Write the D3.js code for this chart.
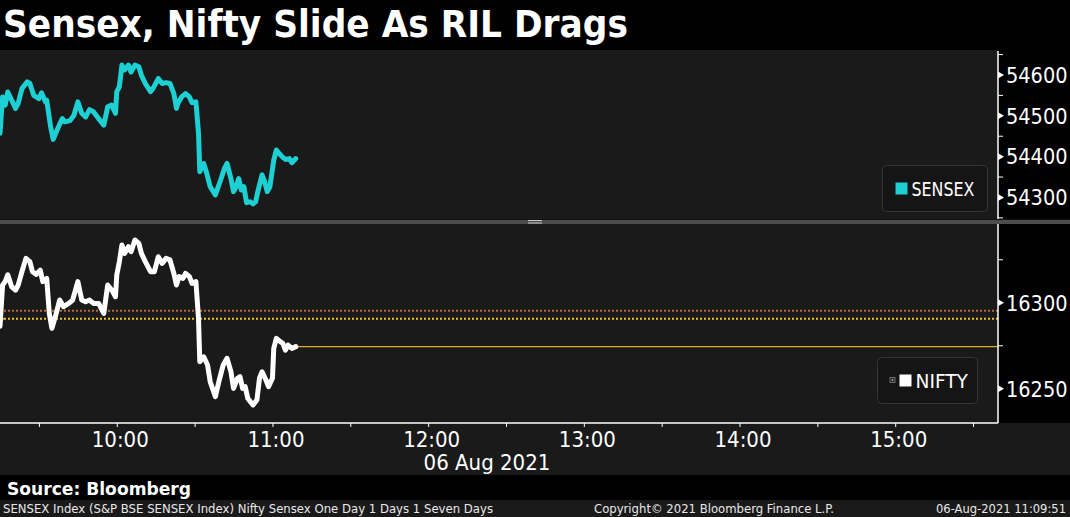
<!DOCTYPE html>
<html>
<head>
<meta charset="utf-8">
<script src="https://cdn.jsdelivr.net/npm/d3@7"></script>
<style>
  html, body { margin: 0; padding: 0; background: #000; }
  svg { display: block; }
</style>
</head>
<body>
<svg id="chart" width="1070" height="517"></svg>
<script>
// ---------------- DATA ----------------
const titleText = "Sensex, Nifty Slide As RIL Drags";
const sensexTimes = ["09:15:00","09:16:00","09:17:00","09:18:00","09:21:00","09:22:00","09:23:30","09:25:30","09:26:30","09:28:00",
  "09:30:00","09:31:00","09:32:30","09:33:00","09:34:30","09:35:30","09:37:00","09:39:00","09:40:00","09:42:00",
  "09:43:30","09:45:00","09:46:30","09:48:00","09:49:30","09:51:00","09:53:00","09:55:00","09:56:30","09:58:00",
  "09:59:30","10:00:00","10:01:00","10:02:00","10:03:00","10:04:30","10:05:30","10:07:00","10:08:30","10:09:30",
  "10:11:00","10:13:00","10:14:00","10:16:00","10:17:30","10:19:00","10:20:30","10:22:00","10:23:00","10:23:30",
  "10:25:00","10:26:30","10:28:00","10:29:00","10:30:30","10:31:30","10:32:00","10:33:30","10:34:30","10:36:00",
  "10:38:00","10:40:00","10:41:30","10:42:30","10:44:00","10:45:00","10:46:00","10:47:00","10:48:00","10:49:00",
  "10:50:00","10:51:30","10:52:30","10:53:30","10:54:30","10:56:00","10:57:00","10:58:00","10:59:00","11:00:30",
  "11:01:30","11:02:30","11:04:00","11:05:00","11:06:30","11:07:30","11:09:00"];
const sensexValues = [54456,54545,54525,54557,54517,54529,54566,54582,54578,54549,
  54541,54555,54533,54537,54472,54441,54464,54492,54484,54487,
  54500,54533,54505,54496,54514,54509,54492,54476,54521,54525,
  54505,54558,54570,54623,54611,54623,54606,54623,54619,54598,
  54578,54558,54566,54590,54578,54580,54578,54553,54517,54529,
  54545,54553,54545,54531,54533,54456,54362,54382,54362,54325,
  54305,54341,54370,54382,54345,54313,54325,54345,54317,54325,
  54286,54288,54283,54288,54317,54354,54337,54313,54325,54390,
  54415,54407,54397,54392,54394,54384,54394];

const niftyTimes = ["09:15:00","09:16:00","09:17:00","09:18:00","09:19:30","09:21:00","09:22:00","09:23:30","09:25:00","09:26:30",
  "09:27:30","09:29:00","09:30:30","09:31:30","09:33:00","09:34:00","09:35:00","09:36:30","09:38:00","09:39:30",
  "09:41:30","09:43:00","09:45:00","09:46:30","09:48:00","09:49:30","09:51:00","09:53:00","09:55:00","09:56:30",
  "09:58:30","09:59:30","10:00:00","10:01:00","10:02:00","10:03:00","10:04:30","10:05:30","10:07:00","10:08:30",
  "10:09:30","10:11:00","10:13:00","10:14:30","10:16:00","10:17:30","10:19:00","10:20:30","10:22:00","10:23:00",
  "10:24:00","10:25:30","10:26:30","10:28:00","10:29:00","10:30:30","10:31:30","10:32:00","10:33:30","10:35:00",
  "10:36:00","10:38:00","10:39:30","10:41:00","10:42:30","10:44:00","10:45:00","10:46:30","10:47:30","10:48:30",
  "10:49:30","10:50:30","10:51:30","10:52:30","10:54:00","10:55:00","10:56:00","10:57:30","10:58:30","11:00:00",
  "11:00:30","11:01:30","11:03:00","11:04:00","11:05:00","11:06:00","11:07:30","11:09:00"];
const niftyValues = [16286,16310,16312,16316,16309,16307,16310,16318,16325.5,16323.6,
  16317.8,16316.2,16318.7,16312,16313.9,16293.5,16284.8,16292.6,16301.3,16297.4,
  16299.3,16301.3,16312,16301.3,16300.3,16301.3,16299.3,16299.3,16293.5,16310,
  16306.1,16303.2,16315.8,16323.6,16333.3,16328.4,16332.3,16329.4,16336.2,16334.2,
  16328.4,16323.6,16317.8,16317.8,16326.5,16322.6,16325.5,16324.6,16316.8,16310,
  16314.9,16313.9,16316.8,16314.9,16311,16312,16290.6,16265.4,16268.3,16263.5,
  16253.8,16245.1,16254.8,16263.5,16267.4,16259.6,16249.9,16255.8,16256.7,16249.9,
  16250.9,16244.1,16242.2,16240.2,16243.2,16255.8,16259.6,16254.8,16250.9,16255.8,
  16273.2,16279,16277.1,16276.1,16272.2,16275.1,16273.2,16274.2];

const niftyRefLevels = [16295, 16290.4];   // dotted reference lines (orange, yellow)
const sensexTicks = [54300, 54400, 54500, 54600];
const sensexMinorTicks = [54250, 54350, 54450, 54550, 54650];
const niftyTicks = [16250, 16300];
const niftyMinorTicks = [16275, 16325];
const hourTicks = ["10:00:00","11:00:00","12:00:00","13:00:00","14:00:00","15:00:00"];
const halfHourTicks = ["09:30:00","10:00:00","10:30:00","11:00:00","11:30:00","12:00:00","12:30:00","13:00:00",
  "13:30:00","14:00:00","14:30:00","15:00:00","15:30:00"];
const sessionRange = ["09:15:00", "15:40:00"];
const dateLabel = "06 Aug 2021";
const sourceText = "Source: Bloomberg";
const footerLeft = "SENSEX Index (S&P BSE SENSEX Index) Nifty Sensex One Day 1 Days 1 Seven Days";
const footerMid = "Copyright\u00A9 2021 Bloomberg Finance L.P.";
const footerRight = "06-Aug-2021 11:09:51";

// ---------------- DRAW ----------------
const parse = d3.timeParse("%H:%M:%S");
const svg = d3.select("#chart");
const W = 1070, H = 517;
const plotRight = 998;
const FONT = "'DejaVu Sans Condensed', 'DejaVu Sans', sans-serif";

const x = d3.scaleTime().domain(sessionRange.map(parse)).range([0, 999]);
const yTop = d3.scaleLinear().domain([54246, 54660]).range([219, 50]);
const yBot = d3.scaleLinear().domain([16229.8, 16345.5]).range([423, 224]);

// backgrounds
svg.append("rect").attr("x",0).attr("y",0).attr("width",W).attr("height",H).attr("fill","#000");
svg.append("rect").attr("x",0).attr("y",50).attr("width",plotRight).attr("height",170).attr("fill","#1a1a1a");
svg.append("rect").attr("x",0).attr("y",224).attr("width",plotRight).attr("height",199).attr("fill","#1a1a1a");
svg.append("rect").attr("x",0).attr("y",423).attr("width",W).attr("height",52).attr("fill","#1a1a1a");
svg.append("rect").attr("x",0).attr("y",500).attr("width",W).attr("height",17).attr("fill","#1a1a1a");

// separator between panels
svg.append("rect").attr("x",0).attr("y",219).attr("width",W).attr("height",1.5).attr("fill","#111");
svg.append("rect").attr("x",0).attr("y",220).attr("width",W).attr("height",4).attr("fill","#4d4d4d");
svg.append("line").attr("x1",528).attr("x2",542).attr("y1",220.5).attr("y2",220.5).attr("stroke","#c8c8c8").attr("stroke-width",1);
svg.append("line").attr("x1",528).attr("x2",542).attr("y1",223).attr("y2",223).attr("stroke","#c8c8c8").attr("stroke-width",1);

// title
svg.append("text").attr("x",3).attr("y",37).text(titleText)
  .attr("fill","#fff").attr("font-family",FONT).attr("font-weight","bold").attr("font-size",37)
  .attr("textLength",625).attr("lengthAdjust","spacingAndGlyphs");

// reference lines in nifty panel
const refColors = ["#b8683a", "#f2c230"];
niftyRefLevels.forEach((v,i) => {
  svg.append("line").attr("x1",0).attr("x2",plotRight).attr("y1",yBot(v)).attr("y2",yBot(v))
    .attr("stroke",refColors[i]).attr("stroke-width",2).attr("stroke-dasharray","2,2");
});
// small marker on the yellow line at left
svg.append("path").attr("d", d3.symbol().type(d3.symbolCross).size(14)())
  .attr("transform",`translate(2,${yBot(niftyRefLevels[1])})`).attr("fill","#f2c230");

// series
const sensex = sensexTimes.map((t,i) => ({t: parse(t), v: sensexValues[i]}));
const nifty = niftyTimes.map((t,i) => ({t: parse(t), v: niftyValues[i]}));

// last-value line for nifty
const lastN = nifty[nifty.length-1];
svg.append("line").attr("x1",x(lastN.t)).attr("x2",plotRight).attr("y1",yBot(lastN.v)).attr("y2",yBot(lastN.v))
  .attr("stroke","#d9ad2c").attr("stroke-width",1.2);

const lineTop = d3.line().x(d => x(d.t)).y(d => yTop(d.v));
const lineBot = d3.line().x(d => x(d.t)).y(d => yBot(d.v));
svg.append("path").datum(sensex).attr("d",lineTop).attr("fill","none")
  .attr("stroke","#1cd0d4").attr("stroke-width",5).attr("stroke-linejoin","round").attr("stroke-linecap","round");
svg.append("path").datum(nifty).attr("d",lineBot).attr("fill","none")
  .attr("stroke","#ffffff").attr("stroke-width",5).attr("stroke-linejoin","round").attr("stroke-linecap","round");

// right axes
function rightAxis(scale, major, minor, y0, y1) {
  const g = svg.append("g").attr("transform",`translate(${plotRight},0)`);
  svg.append("line").attr("x1",plotRight).attr("x2",plotRight).attr("y1",y0).attr("y2",y1)
    .attr("stroke","#fff").attr("stroke-width",1.5);
  const gm = g.append("g").call(d3.axisRight(scale).tickValues(minor).tickSize(5).tickFormat(""));
  gm.select(".domain").remove();
  gm.selectAll("line").attr("stroke","#fff").attr("stroke-width",1);
  const ga = g.append("g").call(d3.axisRight(scale).tickValues(major).tickSize(0).tickPadding(8).tickFormat(d3.format("d")));
  ga.select(".domain").remove();
  ga.selectAll("text").attr("fill","#fff").attr("font-family",FONT).attr("font-size",21.5).attr("dy","0.36em").attr("x",8);
  ga.selectAll(".tick").append("path").attr("d","M0,-3.5L6,0L0,3.5Z").attr("fill","#fff");
}
rightAxis(yTop, sensexTicks, sensexMinorTicks, 51, 219);
rightAxis(yBot, niftyTicks, niftyMinorTicks, 224, 423);

// bottom axis
svg.append("line").attr("x1",0).attr("x2",plotRight).attr("y1",423).attr("y2",423).attr("stroke","#fff").attr("stroke-width",1.5);
const gx = svg.append("g").attr("transform","translate(0,423)")
  .call(d3.axisBottom(x).tickValues(halfHourTicks.map(parse)).tickSize(4).tickFormat(""));
gx.select(".domain").remove();
gx.selectAll("line").attr("stroke","#fff").attr("stroke-width",1);
const gxl = svg.append("g").attr("transform","translate(0,423)")
  .call(d3.axisBottom(x).tickValues(hourTicks.map(parse)).tickSize(0).tickFormat(d3.timeFormat("%H:%M")));
gxl.select(".domain").remove();
gxl.selectAll("text").attr("fill","#fff").attr("font-family",FONT).attr("font-size",22).attr("y",24).attr("dy",0).attr("dx",3);

svg.append("text").attr("x",487).attr("y",470).attr("text-anchor","middle").text(dateLabel)
  .attr("fill","#fff").attr("font-family",FONT).attr("font-size",22);

// legends
function legend(x0, y0, w, h, color, label, withIcon) {
  const g = svg.append("g");
  g.append("rect").attr("x",x0).attr("y",y0).attr("width",w).attr("height",h).attr("rx",4)
    .attr("fill","#151515").attr("stroke","#363636").attr("stroke-width",1);
  let sx = x0 + 13;
  if (withIcon) {
    g.append("rect").attr("x",x0+12.5).attr("y",y0+h/2-3).attr("width",5).attr("height",5)
      .attr("fill","none").attr("stroke","#888").attr("stroke-width",0.8);
    g.append("path").attr("d",`M${x0+13.5},${y0+h/2-0.5}h3M${x0+15},${y0+h/2-2}v3`).attr("stroke","#aaa").attr("stroke-width",0.7);
    sx = x0 + 22;
  }
  g.append("rect").attr("x",sx).attr("y",y0+h/2-6).attr("width",12).attr("height",12).attr("fill",color);
  g.append("text").attr("x",sx+16).attr("y",y0+h/2+7).text(label)
    .attr("fill","#fff").attr("font-family",FONT).attr("font-size",19)
    .attr("textLength", label.length * 10.5).attr("lengthAdjust","spacingAndGlyphs");
}
legend(882.5, 165.5, 105, 46, "#1cd0d4", "SENSEX", false);
legend(877.5, 357.5, 100, 46, "#ffffff", "NIFTY", true);

// source + footer
svg.append("text").attr("x",7).attr("y",495).text(sourceText)
  .attr("fill","#fff").attr("font-family",FONT).attr("font-weight","bold").attr("font-size",18)
  .attr("textLength",184).attr("lengthAdjust","spacingAndGlyphs");
const fs = [[footerLeft,3,490],[footerMid,594,240],[footerRight,936,130]];
fs.forEach(([t,xx,len]) => {
  svg.append("text").attr("x",xx).attr("y",513).text(t)
    .attr("fill","#e8e8e8").attr("font-family",FONT).attr("font-size",12.5)
    .attr("textLength",len).attr("lengthAdjust","spacingAndGlyphs");
});
</script>
</body>
</html>
